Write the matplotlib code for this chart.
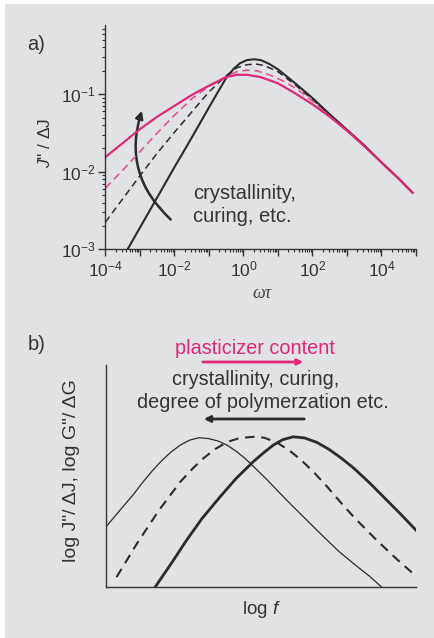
import numpy as np
import matplotlib
matplotlib.use("Agg")
import matplotlib.pyplot as plt
from matplotlib.patches import Rectangle, FancyArrowPatch
from matplotlib.ticker import LogLocator, FuncFormatter, NullFormatter

plt.rcParams['font.family'] = ['Liberation Sans', 'DejaVu Sans']
plt.rcParams['mathtext.fontset'] = 'custom'
plt.rcParams['mathtext.rm'] = 'Liberation Sans'
plt.rcParams['mathtext.it'] = 'Liberation Sans:italic'

# ---- panel a: J''/dJ vs omega*tau (log10 values) ----
blk_solid_lx = [-3.36, -3.0, -2.5, -2.0, -1.5, -1.0, -0.7, -0.5, -0.3, -0.1, 0.1, 0.3, 0.5,
                0.75, 1.0, 1.5, 2.0, 2.5, 3.0, 3.5, 4.0, 4.5, 4.9]
blk_solid_ly = [-3.0, -2.72, -2.33, -1.94, -1.56, -1.17, -0.94, -0.79, -0.68, -0.60, -0.56, -0.55, -0.56,
                -0.61, -0.68, -0.86, -1.05, -1.26, -1.46, -1.66, -1.88, -2.09, -2.27]

blk_dash_lx = [-4.0, -3.77, -3.5, -3.0, -2.5, -2.0, -1.5, -1.0, -0.5, -0.2, 0.1, 0.35, 0.6,
               1.0, 1.5, 2.0, 2.5, 3.0, 3.5, 4.0, 4.5, 4.9]
blk_dash_ly = [-2.65, -2.51, -2.35, -2.05, -1.76, -1.49, -1.23, -0.97, -0.76, -0.66, -0.62, -0.61, -0.63,
               -0.71, -0.88, -1.07, -1.27, -1.46, -1.66, -1.88, -2.09, -2.27]

pink_dash_lx = [-4.0, -3.5, -3.0, -2.5, -2.0, -1.5, -1.0, -0.5, -0.2, 0.1, 0.4, 0.8,
                1.2, 1.6, 2.0, 2.5, 3.0, 3.5, 4.0, 4.5, 4.9]
pink_dash_ly = [-2.21, -1.98, -1.74, -1.50, -1.27, -1.06, -0.90, -0.77, -0.71, -0.69, -0.70, -0.76,
                -0.84, -0.95, -1.09, -1.27, -1.46, -1.66, -1.88, -2.09, -2.27]

pink_solid_lx = [-4.0, -3.5, -3.0, -2.5, -2.0, -1.5, -1.0, -0.5, -0.2, 0.1, 0.5, 1.0,
                 1.5, 2.0, 2.5, 3.0, 3.5, 4.0, 4.5, 4.9]
pink_solid_ly = [-1.81, -1.63, -1.45, -1.29, -1.15, -1.01, -0.89, -0.78, -0.75, -0.75, -0.78, -0.86,
                 -0.99, -1.13, -1.29, -1.47, -1.67, -1.88, -2.09, -2.27]

# ---- panel b: schematic log J'' curves (axes units 0..1) ----
thin_x = [0.0, 0.05, 0.088, 0.12, 0.15, 0.18, 0.21, 0.24, 0.27, 0.30, 0.33, 0.36, 0.39,
          0.42, 0.45, 0.48, 0.52, 0.56, 0.60, 0.65, 0.70, 0.75, 0.80, 0.85, 0.89]
thin_y = [0.272, 0.355, 0.417, 0.475, 0.525, 0.570, 0.609, 0.640, 0.662, 0.673, 0.669, 0.659, 0.640,
          0.612, 0.578, 0.538, 0.483, 0.425, 0.368, 0.299, 0.230, 0.163, 0.105, 0.050, 0.0]

dash_x = [0.034, 0.10, 0.17, 0.24, 0.28, 0.314, 0.35, 0.39, 0.43, 0.475, 0.51, 0.55, 0.59,
          0.63, 0.67, 0.71, 0.755, 0.80, 0.873, 0.94, 0.997]
dash_y = [0.046, 0.197, 0.345, 0.475, 0.535, 0.58, 0.62, 0.653, 0.671, 0.677, 0.673, 0.652, 0.617,
          0.572, 0.518, 0.458, 0.385, 0.315, 0.212, 0.124, 0.054]

thick_x = [0.158, 0.21, 0.26, 0.31, 0.368, 0.42, 0.475, 0.51, 0.54, 0.57, 0.604, 0.64, 0.68,
           0.72, 0.76, 0.80, 0.85, 0.895, 0.95, 1.0]
thick_y = [0.0, 0.106, 0.212, 0.31, 0.407, 0.49, 0.565, 0.607, 0.640, 0.664, 0.677, 0.672, 0.652,
           0.620, 0.580, 0.535, 0.470, 0.407, 0.33, 0.257]

BG = '#e1e2e4'
DARK = '#2b2b2b'
TXT = '#333333'
PINK = '#e0287a'
PINK_LIGHT = '#e25493'
W, H = 435, 638


def fx(px):
    return px / W


def fy(py):
    return 1 - py / H


fig = plt.figure(figsize=(W / 100, H / 100), dpi=100, facecolor='white')
fig.patches.append(Rectangle((fx(5), 0), 1 - fx(5), fy(4), transform=fig.transFigure,
                             facecolor=BG, edgecolor='none', zorder=-10))

# ================= panel a =================
ax = fig.add_axes([fx(105.5), fy(249.3), fx(416) - fx(105.5), fy(25) - fy(249.3)])
ax.set_facecolor('none')
ax.set_xscale('log')
ax.set_yscale('log')
ax.set_xlim(1e-4, 1e5)
ax.set_ylim(1e-3, 0.78)

ax.plot(10 ** np.array(blk_dash_lx), 10 ** np.array(blk_dash_ly), color=DARK, lw=1.1,
        dashes=(4.5, 2.8))
ax.plot(10 ** np.array(pink_dash_lx), 10 ** np.array(pink_dash_ly), color=PINK_LIGHT, lw=1.2,
        dashes=(4.5, 2.8))
ax.plot(10 ** np.array(blk_solid_lx), 10 ** np.array(blk_solid_ly), color=DARK, lw=1.5)
ax.plot(10 ** np.array(pink_solid_lx), 10 ** np.array(pink_solid_ly), color=PINK, lw=1.6)

for side in ['top', 'right']:
    ax.spines[side].set_visible(False)
for side in ['left', 'bottom']:
    ax.spines[side].set_linewidth(1.0)
    ax.spines[side].set_color(TXT)

ax.xaxis.set_major_locator(LogLocator(base=10, numticks=20))
ax.xaxis.set_minor_locator(LogLocator(base=10, subs=np.arange(2, 10), numticks=20))
ax.yaxis.set_major_locator(LogLocator(base=10, numticks=20))
ax.yaxis.set_minor_locator(LogLocator(base=10, subs=np.arange(2, 10), numticks=20))


def even_decades(v, pos):
    e = int(round(np.log10(v)))
    return r'$10^{%d}$' % e if e % 2 == 0 else ''


def all_decades(v, pos):
    e = int(round(np.log10(v)))
    return r'$10^{%d}$' % e


ax.xaxis.set_major_formatter(FuncFormatter(even_decades))
ax.yaxis.set_major_formatter(FuncFormatter(all_decades))
ax.xaxis.set_minor_formatter(NullFormatter())
ax.yaxis.set_minor_formatter(NullFormatter())
ax.tick_params(which='major', direction='out', length=5, width=1.0, color=TXT,
               labelsize=12.5, labelcolor=TXT, pad=2)
ax.tick_params(which='minor', direction='out', length=2.5, width=0.8, color=TXT)

# curved arrow
arr = FancyArrowPatch((10 ** -2.05, 10 ** -2.64), (10 ** -2.92, 10 ** -1.18),
                      connectionstyle='arc3,rad=-0.33', arrowstyle='-|>', mutation_scale=11,
                      lw=1.8, color=DARK)
ax.add_patch(arr)

fig.text(fx(193), fy(194), 'crystallinity,', fontsize=14.5, color=TXT, va='center', ha='left')
fig.text(fx(193), fy(216), 'curing, etc.', fontsize=14.5, color=TXT, va='center', ha='left')

fig.text(fx(262), fy(293), 'ωτ', family='Liberation Serif', style='italic', fontsize=13,
         color='#444444', ha='center', va='center')
fig.text(fx(45), fy(143), r'$J$" / ΔJ', fontsize=12.5, color=TXT, rotation=90,
         ha='center', va='center')
fig.text(fx(36), fy(44), 'a)', fontsize=14.5, color=TXT, ha='center', va='center')

# ================= panel b =================
bx = fig.add_axes([fx(106), fy(587.3), fx(416) - fx(106), fy(365) - fy(587.3)])
bx.set_facecolor('none')
bx.set_xlim(0, 1)
bx.set_ylim(0, 1)
bx.plot(thin_x, thin_y, color=DARK, lw=0.9)
bx.plot(dash_x, dash_y, color=DARK, lw=1.5, dashes=(4.6, 3.2))
bx.plot(thick_x, thick_y, color=DARK, lw=2.0)
for side in ['top', 'right']:
    bx.spines[side].set_visible(False)
for side in ['left', 'bottom']:
    bx.spines[side].set_linewidth(1.0)
    bx.spines[side].set_color(TXT)
bx.set_xticks([])
bx.set_yticks([])

fig.text(fx(37), fy(345), 'b)', fontsize=14.5, color=TXT, ha='center', va='center')
fig.text(fx(255), fy(349), 'plasticizer content', fontsize=14.3, color=PINK, ha='center', va='center')
fig.text(fx(255.5), fy(379), 'crystallinity, curing,', fontsize=14.3, color=TXT,
         ha='center', va='center')
fig.text(fx(263), fy(403), 'degree of polymerzation etc.', fontsize=14.3, color=TXT,
         ha='center', va='center')

fig.patches.append(FancyArrowPatch((fx(200), fy(362)), (fx(306), fy(362)), transform=fig.transFigure,
                                   arrowstyle='-|>', mutation_scale=8, lw=2.0, color=PINK))
fig.patches.append(FancyArrowPatch((fx(307), fy(419)), (fx(201), fy(419)), transform=fig.transFigure,
                                   arrowstyle='-|>', mutation_scale=9, lw=2.0, color=DARK))

fig.text(fx(262), fy(610), r'log $f$', fontsize=13.5, color=TXT, ha='center', va='center')
fig.text(fx(72), fy(471), r'log J"/ ΔJ, log G"/ ΔG', fontsize=14, color=TXT,
         rotation=90, ha='center', va='center')

fig.savefig('out.png', dpi=100, facecolor='white')
